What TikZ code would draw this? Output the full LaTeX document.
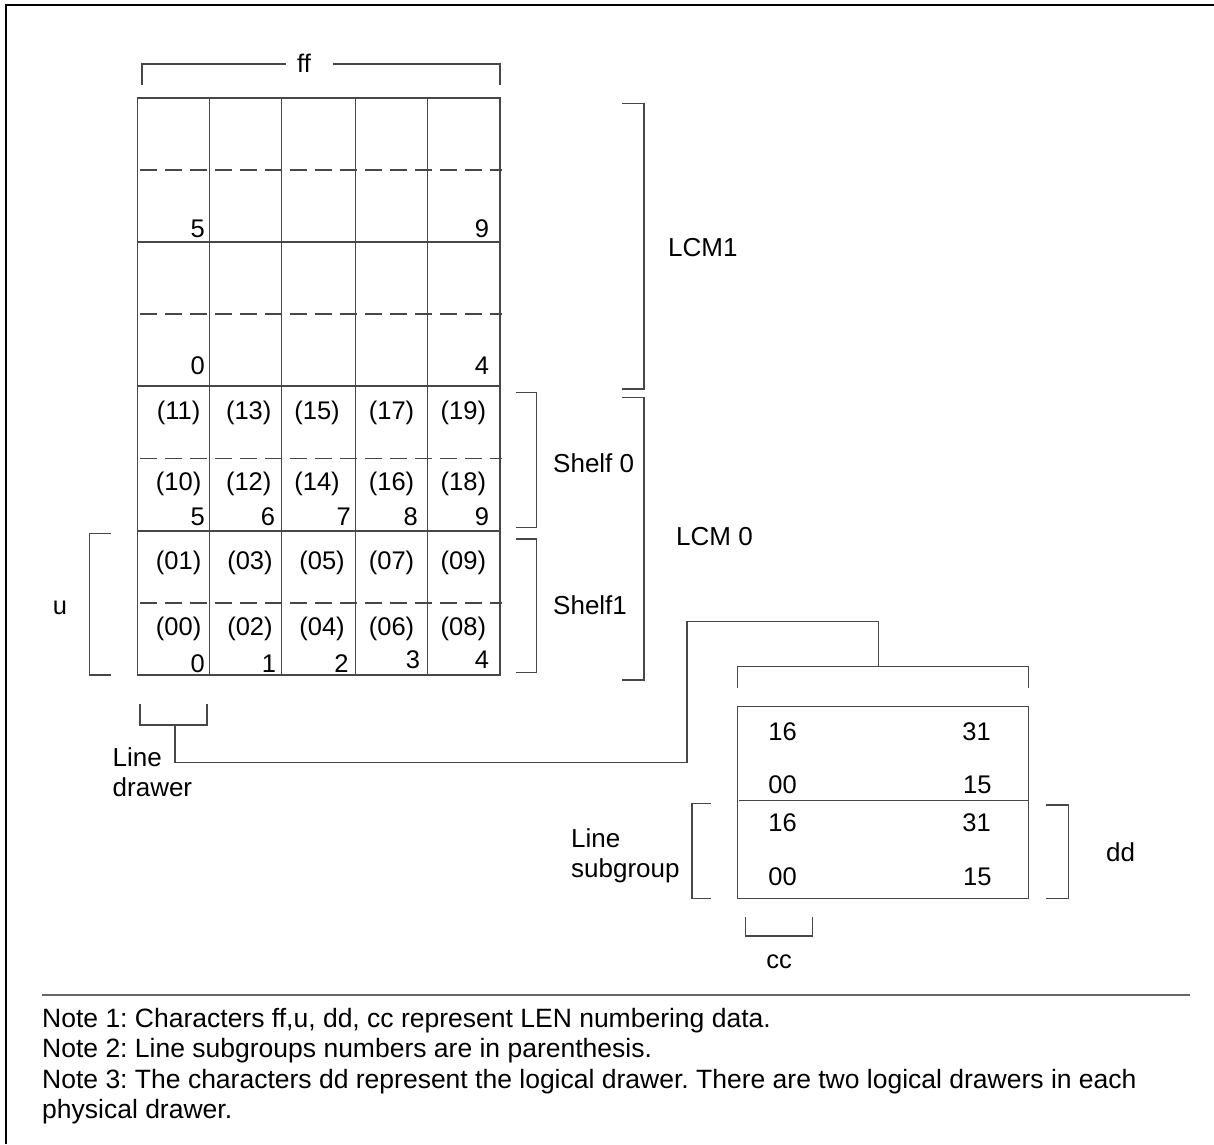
\documentclass[tikz,border=0pt]{standalone}
\usepackage{fontspec}
\setmainfont{Liberation Sans}
\frenchspacing
\begin{document}
\begin{tikzpicture}[x=1pt,y=-1pt,
  ln/.style={line width=1.3pt,draw=black!72},
  dsh/.style={ln,dash pattern=on 17pt off 8pt},
  lbl/.style={inner sep=0pt,anchor=base,font=\fontsize{25.5}{30.5}\selectfont},
  lbw/.style={lbl,anchor=base west,align=left,font=\fontsize{26}{30}\selectfont},
  note/.style={lbl,anchor=base west,font=\fontsize{26.5}{30.5}\selectfont}]
\useasboundingbox (0,0) rectangle (1214,1144);
% frame
\draw[line width=1.5pt,black] (6,1144) -- (6,5) -- (1214,5);
% ff bracket
\node[lbl] (ff) at (304,72) {ff};
\draw[ln] (142,85) -- (142,64) -- (286,64);
\draw[ln] (333,64) -- (500,64) -- (500,85);
% grid
\draw[ln] (137.5,98) rectangle (500,675);
\foreach \x in {209.5,281.5,355.5,427.5} \draw[ln] (\x,98) -- (\x,675);
\foreach \y in {242,386,531} \draw[ln] (137.5,\y) -- (500,\y);
\foreach \y in {170,314,458.5,603} \draw[dsh] (140,\y) -- (502,\y);
% LCM1 labels
\node[lbl] (a5) at (197.8,237) {5};
\node[lbl] (a9) at (482,237) {9};
\node[lbl] (a0) at (197.8,374) {0};
\node[lbl] (a4) at (482,374) {4};
% shelf 0
\foreach \t/\x in {11/178.6,13/248.7,15/317,17/391.5,19/463.4} \node[lbl] (g\t) at (\x,419) {(\t)};
\foreach \t/\x in {10/178.6,12/248.7,14/317,16/391.5,18/463.4} \node[lbl] (g\t) at (\x,490) {(\t)};
\foreach \t/\x in {5/197.8,6/267.9,7/343.7,8/410.7,9/482} \node[lbl] (s\t) at (\x,525) {\t};
% shelf 1
\foreach \t/\x in {01/178.6,03/250,05/322,07/391.5,09/463.4} \node[lbl] (g\t) at (\x,569.5) {(\t)};
\foreach \t/\x in {00/178.6,02/250,04/322,06/391.5,08/463.4} \node[lbl] (g\t) at (\x,635) {(\t)};
\node[lbl] (s0) at (197.8,672.5) {0};
\node[lbl] (s1) at (269,672.5) {1};
\node[lbl] (s2) at (341.5,672.5) {2};
\node[lbl] (s3) at (413,668) {3};
\node[lbl] (s4) at (482,668) {4};
% right brackets
\draw[ln] (622,103.3) -- (644,103.3) -- (644,389) -- (622,389);
\draw[ln] (622,397.3) -- (644,397.3) -- (644,680) -- (622,680);
\draw[ln] (515.7,392.3) -- (536.7,392.3) -- (536.7,527.7) -- (515.7,527.7);
\draw[ln] (515.7,539) -- (536.7,539) -- (536.7,672.3) -- (515.7,672.3);
\node[lbw] (lcm1) at (668,256) {LCM1};
\node[lbw] (lcm0) at (676,545) {LCM 0};
\node[lbw] (sh0) at (553,472) {Shelf 0};
\node[lbw] (sh1) at (553,614) {Shelf1};
% u bracket
\draw[ln] (110.7,533.7) -- (89.3,533.7) -- (89.3,675) -- (111,675);
\node[lbl] (u) at (60,614.5) {u};
% line drawer bracket
\draw[ln] (140,704) -- (140,725) -- (207,725) -- (207,704);
\node[lbw] (ld) at (112.5,796) {Line\\drawer};
% connector
\coordinate (ldmid) at (175,725);
\coordinate (boxtop) at (878.5,666.5);
\draw[ln] (ldmid) -- (175,762.5) -- (687,762.5) -- (687,621.7) -- (878.5,621.7) -- (boxtop);
% box top bracket
\draw[ln] (737.3,688.3) -- (737.3,666.5) -- (1028.3,666.5) -- (1028.3,688.3);
% box
\draw[ln] (737.3,706.7) rectangle (1028.3,898.3);
\draw[ln] (739,800.3) -- (1028.3,800.3);
\node[lbl] (b1) at (782.5,740) {16};
\node[lbl] (b2) at (976.5,740) {31};
\node[lbl] (b3) at (782.5,793) {00};
\node[lbl] (b4) at (977.3,793) {15};
\node[lbl] (b5) at (782.5,831.7) {16};
\node[lbl] (b6) at (976.5,831.7) {31};
\node[lbl] (b7) at (782.5,885.7) {00};
\node[lbl] (b8) at (977.3,885.7) {15};
% line subgroup bracket
\draw[ln] (710.7,803.3) -- (692,803.3) -- (692,898.3) -- (710.7,898.3);
\node[lbw] (lsg) at (571,877) {Line\\subgroup};
% dd bracket
\draw[ln] (1046,805) -- (1068.3,805) -- (1068.3,898.3) -- (1046,898.3);
\node[lbw] (dd) at (1106,861) {dd};
% cc bracket
\draw[ln] (745.3,917.3) -- (745.3,936) -- (812.3,936) -- (812.3,917.3);
\node[lbl] (cc) at (779,968.3) {cc};
% separator
\draw[ln,draw=black!60] (42,995) -- (1190,995);
% notes
\node[note] (n1) at (42,1027) {Note 1: Characters ff,u, dd, cc represent LEN numbering data.};
\node[note] (n2) at (42,1057.5) {Note 2: Line subgroups numbers are in parenthesis.};
\node[note] (n3) at (42,1088) {Note 3: The characters dd represent the logical drawer. There are two logical drawers in each};
\node[note] (n4) at (42,1118.5) {physical drawer.};
\end{tikzpicture}
\end{document}
